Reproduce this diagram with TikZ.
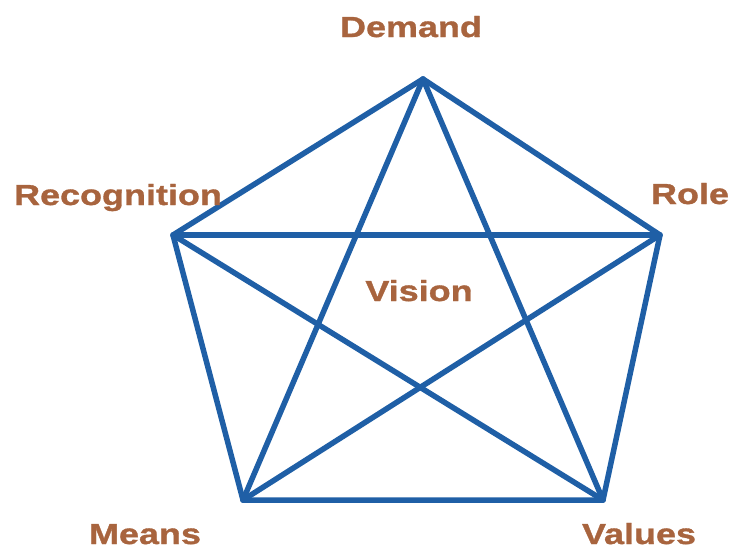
\documentclass[tikz,border=0pt]{standalone}
\usepackage{fontspec}
\setmainfont{Liberation Sans}[FakeStretch=1.24, BoldFeatures={FakeBold=1.2}]
\definecolor{starblue}{HTML}{1F5FA6}
\definecolor{labelbrown}{HTML}{A8643E}
\tikzset{
    edge/.style={line width=5.5pt, starblue, line join=round, line cap=round},
    tag/.style={labelbrown, font=\fontsize{29}{30}\selectfont\bfseries, inner sep=0pt}
}
\begin{document}
\begin{tikzpicture}[x=1pt, y=-1pt]
    \useasboundingbox (0,0) rectangle (742,550);

% corners of the pentagon
    \coordinate (demand) at (423,79);
    \coordinate (recognition) at (173,235);
    \coordinate (role) at (660,235);
    \coordinate (means) at (243,500);
    \coordinate (values) at (603,500);

% outer pentagon
    \draw[edge] (demand) -- (role) -- (values) -- (means) -- (recognition) -- cycle;
% inner star
    \draw[edge] (demand) -- (means);
    \draw[edge] (demand) -- (values);
    \draw[edge] (recognition) -- (role);
    \draw[edge] (recognition) -- (values);
    \draw[edge] (role) -- (means);

% labels
    \node[tag, anchor=base] (demandlabel) at (411,37) {Demand};
    \node[tag, anchor=base] (recognitionlabel) at (118,205) {Recognition};
    \node[tag, anchor=base] (rolelabel) at (690,204) {Role};
    \node[tag, anchor=base] (meanslabel) at (145,544) {Means};
    \node[tag, anchor=base] (valueslabel) at (639,544) {Values};
    \node[tag, anchor=base] (visionlabel) at (419,301) {Vision};

\end{tikzpicture}
\end{document}
